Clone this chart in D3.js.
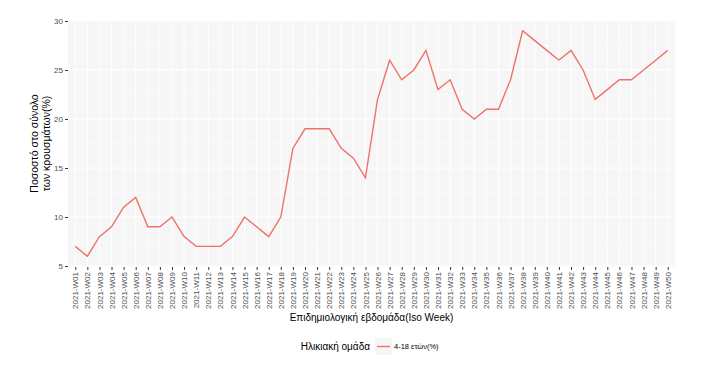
<!DOCTYPE html>
<html>
<head>
<meta charset="utf-8">
<script src="https://cdn.jsdelivr.net/npm/d3@7"></script>
<style>
  body { margin: 0; background: #fff; }
  text { font-family: "Liberation Sans", Arial, sans-serif; }
</style>
</head>
<body>
<svg id="chart" width="713" height="373"></svg>
<script>
// weeks and values
var weeks = [];
for (var i = 1; i <= 50; i++) weeks.push("2021-W" + (i < 10 ? "0" + i : i));
var values = [7, 6, 8, 9, 11, 12, 9, 9, 10, 8,
              7, 7, 7, 8, 10, 9, 8, 10, 17, 19,
              19, 19, 17, 16, 14, 22, 26, 24, 25, 27,
              23, 24, 21, 20, 21, 21, 24, 29, 28, 27,
              26, 27, 25, 22, 23, 24, 24, 25, 26, 27];
var yTicks = [5, 10, 15, 20, 25, 30];
var yMinor = [7.5, 12.5, 17.5, 22.5, 27.5];
var seriesName = "4-18 ετών(%)";

function drawChart() {
    var svg = d3.select("#chart");
    // panel edges (note: "top" is reserved on window, so use pTop etc.)
    var pLeft = 68, pRight = 675, pTop = 20, pBottom = 267;

    var x = d3.scalePoint()
        .domain(weeks)
        .range([pLeft, pRight])
        .padding(0.6);

    var y = d3.scaleLinear()
        .domain([4.9, 30.1])
        .range([pBottom, pTop]);

    // panel
    svg.append("rect")
        .attr("x", pLeft).attr("y", pTop)
        .attr("width", pRight - pLeft).attr("height", pBottom - pTop)
        .attr("fill", "#f6f6f6");

    // grid
    svg.append("g").selectAll("line")
        .data(yMinor).enter().append("line")
        .attr("x1", pLeft).attr("x2", pRight)
        .attr("y1", d => y(d)).attr("y2", d => y(d))
        .attr("stroke", "#fff").attr("stroke-width", 0.5);

    svg.append("g").selectAll("line")
        .data(yTicks).enter().append("line")
        .attr("x1", pLeft).attr("x2", pRight)
        .attr("y1", d => y(d)).attr("y2", d => y(d))
        .attr("stroke", "#fff").attr("stroke-width", 1);

    svg.append("g").selectAll("line")
        .data(weeks).enter().append("line")
        .attr("x1", d => x(d)).attr("x2", d => x(d))
        .attr("y1", pTop).attr("y2", pBottom)
        .attr("stroke", "#fff").attr("stroke-width", 1);

    // y axis
    var yAxis = svg.append("g")
        .attr("transform", "translate(" + pLeft + ",0)")
        .call(d3.axisLeft(y).tickValues(yTicks).tickSize(3).tickPadding(2));
    yAxis.select(".domain").remove();
    yAxis.selectAll("line").attr("stroke", "#333");
    yAxis.selectAll("text").attr("fill", "#4d4d4d").style("font-size", "8px");

    // x axis
    var xAxis = svg.append("g")
        .attr("transform", "translate(0," + pBottom + ")")
        .call(d3.axisBottom(x).tickSize(3).tickPadding(2));
    xAxis.select(".domain").remove();
    xAxis.selectAll("line").attr("stroke", "#333");
    xAxis.selectAll("text")
        .attr("fill", "#4d4d4d")
        .style("font-size", "8px")
        .attr("transform", "rotate(-90)")
        .attr("text-anchor", "end")
        .attr("dy", "0.32em")
        .attr("x", -5)
        .attr("y", 0);

    // line
    var line = d3.line()
        .x((d, i) => x(weeks[i]))
        .y(d => y(d));

    svg.append("path")
        .datum(values)
        .attr("d", line)
        .attr("fill", "none")
        .attr("stroke", "#ee7269")
        .attr("stroke-width", 1.4);

    // axis titles
    svg.append("text")
        .attr("x", (pLeft + pRight) / 2).attr("y", 321)
        .attr("text-anchor", "middle")
        .style("font-size", "10px")
        .attr("fill", "#000")
        .text("Επιδημιολογική εβδομάδα(Iso Week)");

    var yt = svg.append("text")
        .attr("transform", "translate(0," + ((pTop + pBottom) / 2) + ") rotate(-90)")
        .attr("text-anchor", "middle")
        .style("font-size", "10.5px")
        .attr("fill", "#000");
    yt.append("tspan").attr("x", 0).attr("y", 38).text("Ποσοστό στο σύνολο");
    yt.append("tspan").attr("x", 0).attr("y", 50).text("των κρουσμάτων(%)");

    // legend
    var lg = svg.append("g").attr("transform", "translate(0,346)");
    lg.append("text")
        .attr("x", 370).attr("y", 3.5)
        .attr("text-anchor", "end")
        .style("font-size", "10px")
        .text("Ηλικιακή ομάδα");
    lg.append("rect")
        .attr("x", 375).attr("y", -8).attr("width", 17).attr("height", 17)
        .attr("fill", "#f6f6f6");
    lg.append("line")
        .attr("x1", 377).attr("x2", 390).attr("y1", 0.5).attr("y2", 0.5)
        .attr("stroke", "#ee7269").attr("stroke-width", 1.4);
    lg.append("text")
        .attr("x", 394).attr("y", 3)
        .style("font-size", "7.5px")
        .text(seriesName);
}

drawChart();
</script>
</body>
</html>
